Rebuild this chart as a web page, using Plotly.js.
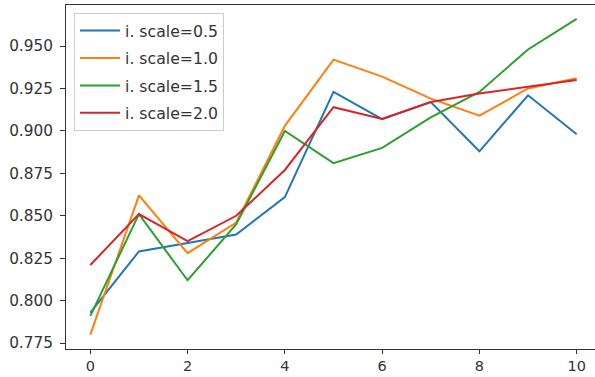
<!DOCTYPE html>
<html>
<head>
<meta charset="utf-8">
<script src="https://cdn.plot.ly/plotly-3.0.1.min.js"></script>
<style>
html, body { margin: 0; padding: 0; overflow: hidden; background: #fff; width: 595px; height: 377px; }
#chart { width: 602px; height: 377px; }
</style>
</head>
<body>
<div id="chart"></div>
<script>
const epochs = [0, 1, 2, 3, 4, 5, 6, 7, 8, 9, 10];
const seriesNames = ["i. scale=0.5", "i. scale=1.0", "i. scale=1.5", "i. scale=2.0"];
const scale05 = [0.793, 0.829, 0.834, 0.839, 0.861, 0.923, 0.907, 0.917, 0.888, 0.921, 0.898];
const scale10 = [0.780, 0.862, 0.828, 0.846, 0.903, 0.942, 0.932, 0.919, 0.909, 0.925, 0.931];
const scale15 = [0.791, 0.851, 0.812, 0.845, 0.900, 0.881, 0.890, 0.908, 0.923, 0.948, 0.966];
const scale20 = [0.821, 0.851, 0.835, 0.850, 0.877, 0.914, 0.907, 0.917, 0.922, 0.926, 0.930];
const colors = ["#1f77b4", "#ff7f0e", "#2ca02c", "#d62728"];
const values = [scale05, scale10, scale15, scale20];

const traces = values.map((v, i) => ({
  x: epochs,
  y: v,
  type: "scatter",
  mode: "lines",
  name: seriesNames[i],
  legendgroup: "g" + i,
  line: { color: colors[i], width: 2 }
}));

const tickFont = { family: "DejaVu Sans", size: 15.3, color: "#333" };

const layout = {
  width: 602,
  height: 377,
  margin: { l: 66, r: 1, t: 5, b: 28 },
  paper_bgcolor: "#fff",
  plot_bgcolor: "#fff",
  showlegend: true,
  legend: {
    x: 0.015, y: 0.977, xanchor: "left", yanchor: "top",
    bgcolor: "rgba(255,255,255,0.8)",
    bordercolor: "#cccccc", borderwidth: 1,
    font: { family: "DejaVu Sans", size: 15.7, color: "#333" },
    itemwidth: 40,
    tracegroupgap: 4,
    traceorder: "grouped"
  },
  xaxis: {
    range: [-0.5, 10.5],
    tickmode: "linear", tick0: 0, dtick: 2,
    showgrid: false, zeroline: false,
    showline: true, mirror: true, linecolor: "#333", linewidth: 1,
    ticks: "outside", ticklen: 4, tickcolor: "#333", tickwidth: 1,
    tickfont: { family: "DejaVu Sans", size: 14.5, color: "#333" }
  },
  yaxis: {
    range: [0.7715, 0.9742],
    tickmode: "linear", tick0: 0.775, dtick: 0.025,
    tickformat: ".3f",
    showgrid: false, zeroline: false,
    showline: true, mirror: true, linecolor: "#333", linewidth: 1,
    ticks: "outside", ticklen: 5, tickcolor: "#333", tickwidth: 1,
    ticklabelstandoff: 4,
    tickfont: tickFont
  }
};

Plotly.newPlot("chart", traces, layout, { displayModeBar: false, staticPlot: true });
</script>
</body>
</html>
